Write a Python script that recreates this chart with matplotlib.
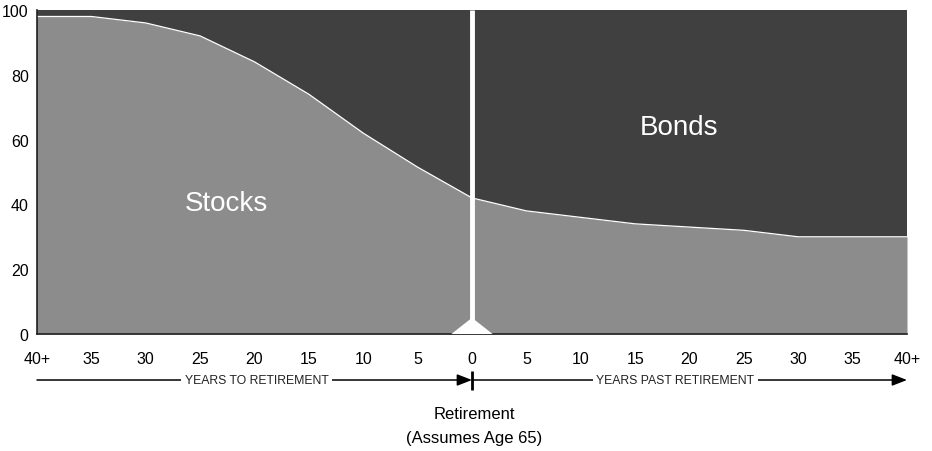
import matplotlib
matplotlib.use("Agg")
import matplotlib.pyplot as plt
from matplotlib.patches import Polygon

plt.rcParams["font.family"] = ["Liberation Sans", "DejaVu Sans"]

# Data
years = [-40, -35, -30, -25, -20, -15, -10, -5, 0, 5, 10, 15, 20, 25, 30, 35, 40]
tick_labels = ["40+", "35", "30", "25", "20", "15", "10", "5", "0",
               "5", "10", "15", "20", "25", "30", "35", "40+"]
stocks = [98, 98, 96, 92, 84, 74, 62, 51.5, 42, 38, 36, 34, 33, 32, 30, 30, 30]
y_ticks = [0, 20, 40, 60, 80, 100]

W, H = 932, 452
fig = plt.figure(figsize=(W / 100, H / 100), dpi=100)
ax = fig.add_axes([37 / W, 1 - 335 / H, 870 / W, 324 / H])

stock_col = "#8c8c8c"
bond_col = "#404040"

ax.fill_between(years, 0, 100, color=bond_col, linewidth=0)
ax.fill_between(years, 0, stocks, color=stock_col, linewidth=0)
ax.plot(years, stocks, color="white", linewidth=0.9)

# retirement divider
ax.plot([0, 0], [0, 100], color="white", linewidth=3.5, solid_capstyle="butt")
ax.add_patch(Polygon([[-1.9, 0], [0, 5], [1.9, 0]], closed=True,
                     facecolor="white", edgecolor="none", zorder=3))

ax.set_xlim(-40, 40)
ax.set_ylim(0, 100)
ax.set_xticks(years)
ax.set_xticklabels(tick_labels, fontsize=11.5)
ax.set_yticks(y_ticks)
ax.set_yticklabels([str(v) for v in y_ticks], fontsize=11.5)
ax.tick_params(axis="both", length=0)
ax.tick_params(axis="x", pad=12)
ax.tick_params(axis="y", pad=6)
for s in ["top", "right"]:
    ax.spines[s].set_visible(False)
ax.spines["left"].set_linewidth(1.2)
ax.spines["bottom"].set_linewidth(1.2)
ax.spines["left"].set_color("#222222")
ax.spines["bottom"].set_color("#222222")

ax.text(-22.6, 40.5, "Stocks", color="white", fontsize=20, ha="center", va="center")
ax.text(19.0, 64, "Bonds", color="white", fontsize=20, ha="center", va="center")

# bottom arrows
ya = -14.2
ax.annotate("", xy=(0, ya), xytext=(-40, ya), xycoords="data",
            arrowprops=dict(arrowstyle="-|>,head_length=0.9,head_width=0.35",
                            color="black", lw=1.1, shrinkA=0, shrinkB=0),
            annotation_clip=False)
ax.annotate("", xy=(40, ya), xytext=(0, ya), xycoords="data",
            arrowprops=dict(arrowstyle="-|>,head_length=0.9,head_width=0.35",
                            color="black", lw=1.1, shrinkA=0, shrinkB=0),
            annotation_clip=False)
ax.plot([0, 0], [-11.4, -17.2], color="black", linewidth=2, clip_on=False,
        solid_capstyle="butt")
ax.text(-19.8, ya, "YEARS TO RETIREMENT", fontsize=8.8, ha="center", va="center",
        color="#222222", bbox=dict(facecolor="white", edgecolor="none", pad=2.5),
        clip_on=False)
ax.text(18.7, ya, "YEARS PAST RETIREMENT", fontsize=8.8, ha="center", va="center",
        color="#222222", bbox=dict(facecolor="white", edgecolor="none", pad=2.5),
        clip_on=False)

fig.text(474 / W, 1 - 415 / H, "Retirement", fontsize=12, ha="center", va="center")
fig.text(474 / W, 1 - 439 / H, "(Assumes Age 65)", fontsize=12, ha="center", va="center")

fig.savefig("out.png", dpi=100)
